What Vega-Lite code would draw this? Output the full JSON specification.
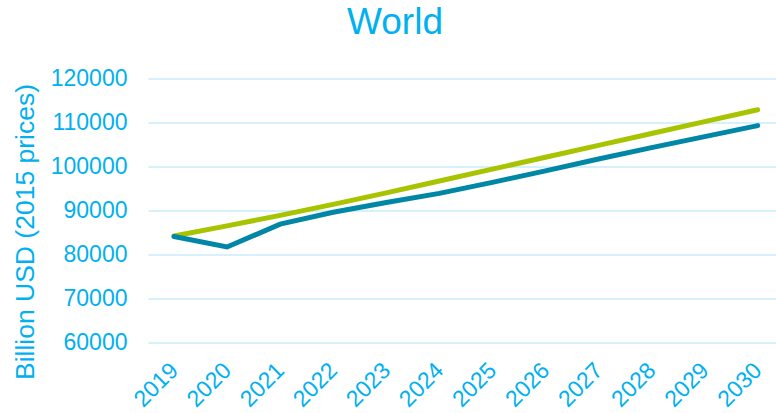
{
  "$schema": "https://vega.github.io/schema/vega-lite/v6.json",
  "autosize": {"type": "none"},
  "width": 628,
  "height": 264,
  "padding": {"left": 148, "top": 78.5, "right": 0, "bottom": 70.5},
  "background": "white",
  "title": {
    "text": "World",
    "font": "Liberation Sans",
    "fontSize": 37,
    "fontWeight": "normal",
    "color": "#00B0F0",
    "anchor": "middle",
    "frame": "group",
    "dx": -67,
    "dy": 33,
    "baseline": "alphabetic",
    "offset": 30
  },
  "data": {
    "values": [
      {"year": 2019, "series": "Pre-COVID", "value": 84200},
      {"year": 2020, "series": "Pre-COVID", "value": 86500},
      {"year": 2021, "series": "Pre-COVID", "value": 88900},
      {"year": 2022, "series": "Pre-COVID", "value": 91400},
      {"year": 2023, "series": "Pre-COVID", "value": 94000},
      {"year": 2024, "series": "Pre-COVID", "value": 96700},
      {"year": 2025, "series": "Pre-COVID", "value": 99400},
      {"year": 2026, "series": "Pre-COVID", "value": 102100},
      {"year": 2027, "series": "Pre-COVID", "value": 104800},
      {"year": 2028, "series": "Pre-COVID", "value": 107500},
      {"year": 2029, "series": "Pre-COVID", "value": 110200},
      {"year": 2030, "series": "Pre-COVID", "value": 112900},
      {"year": 2019, "series": "Current", "value": 84100},
      {"year": 2020, "series": "Current", "value": 81700},
      {"year": 2021, "series": "Current", "value": 86900},
      {"year": 2022, "series": "Current", "value": 89600},
      {"year": 2023, "series": "Current", "value": 91800},
      {"year": 2024, "series": "Current", "value": 93900},
      {"year": 2025, "series": "Current", "value": 96400},
      {"year": 2026, "series": "Current", "value": 99000},
      {"year": 2027, "series": "Current", "value": 101700},
      {"year": 2028, "series": "Current", "value": 104300},
      {"year": 2029, "series": "Current", "value": 106800},
      {"year": 2030, "series": "Current", "value": 109300}
    ]
  },
  "mark": {"type": "line", "strokeWidth": 5, "strokeCap": "round", "strokeJoin": "miter", "clip": false},
  "encoding": {
    "x": {
      "field": "year",
      "type": "quantitative",
      "scale": {"domain": [2018.51, 2030.345], "nice": false, "zero": false},
      "axis": {
        "values": [2019, 2020, 2021, 2022, 2023, 2024, 2025, 2026, 2027, 2028, 2029, 2030],
        "format": "d",
        "title": null,
        "grid": false,
        "domain": false,
        "ticks": false,
        "labelAngle": -45,
        "labelAlign": "right",
        "labelBaseline": "middle",
        "labelPadding": 24,
        "labelFont": "Liberation Sans",
        "labelFontSize": 23,
        "labelColor": "#00B0F0",
        "labelOverlap": false,
        "labelFlush": false
      }
    },
    "y": {
      "field": "value",
      "type": "quantitative",
      "scale": {"domain": [60000, 120000], "nice": false, "zero": false},
      "axis": {
        "values": [60000, 70000, 80000, 90000, 100000, 110000, 120000],
        "format": "d",
        "title": "Billion USD (2015 prices)",
        "titleFont": "Liberation Sans",
        "titleFontSize": 26.5,
        "titleFontWeight": "normal",
        "titleColor": "#00B0F0",
        "titleAngle": -90,
        "titleAlign": "center",
        "titleBaseline": "middle",
        "titleX": -123,
        "titleY": 153,
        "grid": true,
        "gridColor": "#C8EBFB",
        "gridWidth": 1.5,
        "domain": false,
        "ticks": false,
        "labelPadding": 21,
        "labelFont": "Liberation Sans",
        "labelFontSize": 23,
        "labelColor": "#00B0F0",
        "labelFlush": false
      }
    },
    "color": {
      "field": "series",
      "type": "nominal",
      "scale": {"domain": ["Pre-COVID", "Current"], "range": ["#A8C400", "#0087A6"]},
      "legend": null
    }
  },
  "config": {"view": {"stroke": null}}
}
